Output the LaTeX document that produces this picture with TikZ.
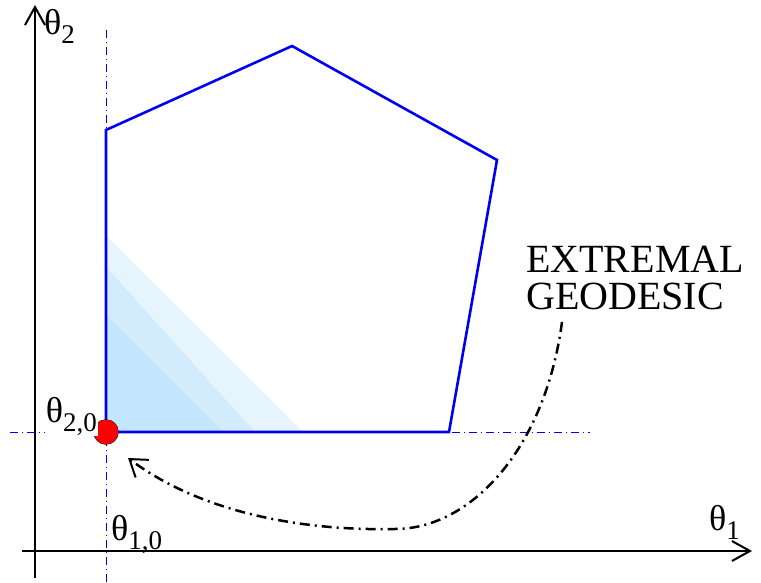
\documentclass[tikz,border=0pt]{standalone}
\usepackage{fontspec}
\setmainfont{Liberation Serif}
\usetikzlibrary{positioning, arrows.meta}
\usepackage{xcolor}
\definecolor{regionBlue}{HTML}{0000F0}
\definecolor{shadeLight}{HTML}{E6F4FE}
\definecolor{shadeMid}{HTML}{D2ECFD}
\definecolor{shadeDark}{HTML}{C4E6FC}
\newcommand{\angsub}[1]{\raisebox{-0.25em}{\fontsize{27}{27}\selectfont #1}}

\begin{document}
\begin{tikzpicture}[
    x=1pt, y=-1pt,
    axis/.style={draw=black, line width=2.5pt, -{Straight Barb[length=18pt,width=20pt,line width=2pt]}},
    guide/.style={draw=regionBlue, line width=1pt, dash pattern=on 8pt off 4pt on 1pt off 4pt},
    border/.style={draw=regionBlue, line width=2.6pt, line join=miter},
    geodesic/.style={draw=black, line width=2.5pt, dash pattern=on 10pt off 5pt on 2pt off 5pt,
        -{Straight Barb[length=16pt,width=22pt,line width=2pt]}},
    anglabel/.style={font=\fontsize{36}{38}\selectfont, inner sep=1pt}
]
    \useasboundingbox (0,0) rectangle (761,583);

    % Corner and vertices of the region
    \coordinate (C) at (106,432);
    \coordinate (P1) at (106,130);
    \coordinate (P2) at (292,46);
    \coordinate (P3) at (497,160);
    \coordinate (P4) at (449,432);

    % Shaded wedges at the corner
    \fill[shadeLight] (C) -- (106,236) -- (303,432) -- cycle;
    \fill[shadeMid] (C) -- (106,267) -- (255,432) -- cycle;
    \fill[shadeDark] (C) -- (106,315) -- (223,432) -- cycle;

    % Axes
    \coordinate (O) at (35,551);
    \draw[axis] (35,578) -- (35,5);
    \draw[axis] (22,551) -- (752,551);

    % Guide lines through the corner
    \draw[guide] (106,30) -- (106,582);
    \draw[guide] (10,432) -- (590,432);

    % Region boundary
    \draw[border] (C) -- (P1) -- (P2) -- (P3) -- (P4) -- cycle;

    % Starting point
    \node[circle, fill=red, draw=black, line width=0.3pt, minimum size=25pt, inner sep=0pt] (start) at (C) {};

    % Labels
    \node[anglabel, anchor=base west] (t2) at (43,35) {θ\angsub{2}};
    \node[anglabel, anchor=base east] (t1) at (741,530) {θ\angsub{1}};
    \node[anglabel, anchor=base east, fill=white] (t20) at (98,422) {θ\angsub{2,0}};
    \node[anglabel, anchor=base west] (t10) at (110,540) {θ\angsub{1,0}};
    \node[font=\fontsize{40}{37}\selectfont, align=left, anchor=north west, inner sep=0pt] (geo) at (526,246) {EXTREMAL\\GEODESIC};

    % Extremal geodesic back to the start
    \coordinate (g0) at (562,322);
    \coordinate (tip) at (128,458);
    \draw[geodesic] (g0) .. controls (545,450) and (470,529) .. (395,529)
        .. controls (300,531) and (200,512) .. (tip);
\end{tikzpicture}
\end{document}
